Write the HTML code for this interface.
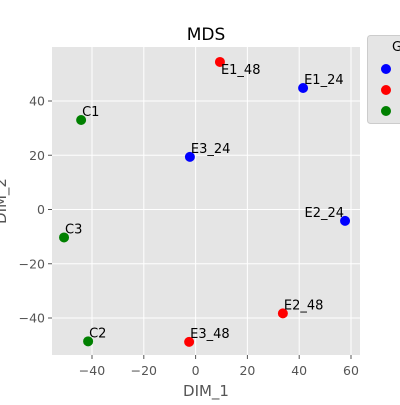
<!DOCTYPE html>
<html><head><meta charset="utf-8"><style>
body{margin:0;background:#fff;}
svg{font-family:"DejaVu Sans","Liberation Sans",sans-serif;}
</style></head><body>
<svg width="400" height="400" xmlns="http://www.w3.org/2000/svg">
<rect x="52" y="47" width="308" height="308" fill="#e5e5e5"/>
<g id="grid"></g><g id="ticks"></g><g id="pts"></g>
<text x="206" y="40" font-size="17" text-anchor="middle">MDS</text>
<text x="206" y="396" font-size="15" fill="#555" text-anchor="middle">DIM_1</text>
<text x="6" y="201" font-size="15" fill="#555" text-anchor="middle" transform="rotate(-90 6 201)">DIM_2</text>
<g>
<rect x="367.5" y="35.5" width="50" height="88" rx="3" fill="#e5e5e5" stroke="#ccc"/>
<text x="392" y="51" font-size="13">G</text>
<circle cx="386" cy="69" r="5" fill="blue"/>
<circle cx="386" cy="90" r="5" fill="red"/>
<circle cx="386" cy="111" r="5" fill="green"/>
</g>
</svg>
<script>
const labels=["E1_48","E1_24","E3_24","E2_24","E2_48","E3_48","C1","C3","C2"];
const xVals=[9.4,41.5,-2.2,57.7,33.7,-2.5,-44.2,-50.8,-41.5];
const yVals=[54.4,44.8,19.4,-4.2,-38.3,-48.8,33.0,-10.3,-48.6];
const colors=["red","blue","blue","blue","red","red","green","green","green"];
const xTicks=[-40,-20,0,20,40,60];
const yTicks=[-40,-20,0,20,40];
const NS="http://www.w3.org/2000/svg";
const sx=v=>195.6+v*2.59, sy=v=>209.5-v*2.7125;
function mk(t,a,p){const e=document.createElementNS(NS,t);for(const k in a)e.setAttribute(k,a[k]);p.appendChild(e);return e;}
const grid=document.getElementById('grid'),ticks=document.getElementById('ticks'),pts=document.getElementById('pts');
const fmt=v=>v<0?'\u2212'+(-v):''+v;
xTicks.forEach(v=>{const x=sx(v);
 const g=mk('line',{x1:x,x2:x,y1:47,y2:355,stroke:'#fff','stroke-width':1},grid);
 
 mk('line',{x1:x,x2:x,y1:355,y2:359,stroke:'#555'},ticks);
 const t=mk('text',{x:x,y:375,'font-size':12.5,fill:'#555','text-anchor':'middle'},ticks);t.textContent=fmt(v);
 });
yTicks.forEach(v=>{const y=sy(v);
 const g=mk('line',{x1:52,x2:360,y1:y,y2:y,stroke:'#fff','stroke-width':1},grid);
 
 mk('line',{x1:48,x2:52,y1:y,y2:y,stroke:'#555'},ticks);
 const t=mk('text',{x:45,y:y+4.5,'font-size':12.5,fill:'#555','text-anchor':'end'},ticks);t.textContent=fmt(v);
 });
labels.forEach((l,i)=>{const x=sx(xVals[i]),y=sy(yVals[i]);
 const c=mk('circle',{cx:x,cy:y,r:5,fill:colors[i]},pts);
 
 
 const anchorEnd=l==='E2_24';
 const t=mk('text',{x:anchorEnd?x-1:x+1,y:y-4,'font-size':13,'text-anchor':anchorEnd?'end':'start'},pts);
 if(l==='E1_48'){t.setAttribute('y',y+12);}
 t.textContent=l;
 
 });
</script>
</body></html>
